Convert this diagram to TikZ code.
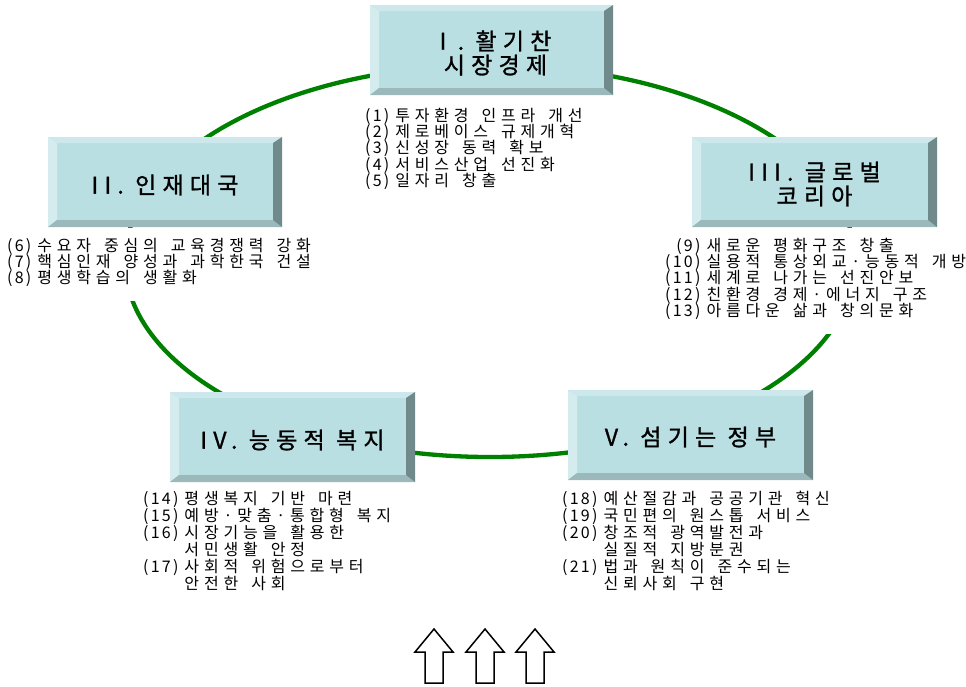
\documentclass[tikz,border=0pt]{standalone}
\usepackage{fontspec}
\usepackage{array}
\setmainfont{Noto Sans CJK KR}
\newfontfamily\titlefont[LetterSpace=27,FakeBold=1.2]{Noto Sans CJK KR}
\newfontfamily\listfont[LetterSpace=30]{Noto Sans CJK KR}
\newfontfamily\numfont[LetterSpace=14]{Noto Sans CJK KR}
\newcommand\listsetup{\listfont\fontsize{16}{16.4}\selectfont\spaceskip 13pt\relax}
\newcommand\listsetupwide{\listfont\fontsize{16}{17}\selectfont\spaceskip 13pt\relax}
\newcolumntype{N}{>{\numfont}r}
\newcommand\li[2]{\smash{#1}&\smash{#2}}
\definecolor{face}{RGB}{185,223,227}
\definecolor{bvleft}{RGB}{213,236,239}
\definecolor{bvtop}{RGB}{205,232,236}
\definecolor{bvright}{RGB}{112,138,140}
\definecolor{bvbottom}{RGB}{155,184,187}
\definecolor{ringgreen}{RGB}{0,128,0}
\tikzset{
  box/.style={fill=face, inner sep=0pt, outer sep=0pt, minimum height=90pt},
  title/.style={inner sep=0pt, align=center, font=\titlefont\fontsize{23}{24}\selectfont},
  listtext/.style={fill=white, inner xsep=0pt, inner ysep=12pt, anchor=base west, font=\listsetup},
  listwide/.style={listtext, inner ysep=8pt, font=\listsetupwide},
  ring/.style={draw=ringgreen, line width=4.3pt},
  blockarrow/.style={draw=black, fill=white, line width=1.5pt, line join=miter},
}
\newcommand\bevelize[1]{%
  \fill[bvleft] (#1.north west) -- ([shift={(9,6)}]#1.north west) -- ([shift={(9,-7)}]#1.south west) -- (#1.south west) -- cycle;
  \fill[bvtop] (#1.north west) -- (#1.north east) -- ([shift={(-9,6)}]#1.north east) -- ([shift={(9,6)}]#1.north west) -- cycle;
  \fill[bvbottom] (#1.south west) -- (#1.south east) -- ([shift={(-9,-7)}]#1.south east) -- ([shift={(9,-7)}]#1.south west) -- cycle;
  \fill[bvright] (#1.north east) -- (#1.south east) -- ([shift={(-9,-7)}]#1.south east) -- ([shift={(-9,6)}]#1.north east) -- cycle;
}
\newcommand\blockup[1]{%
  \draw[blockarrow] (#1) -- ++(19,23) -- ++(-10,0) -- ++(0,31) -- ++(-18,0) -- ++(0,-31) -- ++(-10,0) -- cycle;
}
\begin{document}
\begin{tikzpicture}[x=1pt,y=-1pt]
\useasboundingbox (0,0) rectangle (966,686);
% ring
\coordinate (ringc) at (490,261);
\draw[ring] (ringc) ellipse [x radius=365, y radius=196];
% lists (white backing hides the ring)
\node[listtext] (l1) at (365,121) {\begin{tabular}[t]{@{}N@{\hspace{6pt}}l@{}}
\li{(1)}{투자환경 인프라 개선}\\
\li{(2)}{제로베이스 규제개혁}\\
\li{(3)}{신성장 동력 확보}\\
\li{(4)}{서비스산업 선진화}\\
\li{(5)}{일자리 창출}
\end{tabular}};
\node[listtext] (l2) at (7,251) {\begin{tabular}[t]{@{}N@{\hspace{6pt}}l@{}}
\li{(6)}{수요자 중심의 교육경쟁력 강화}\\
\li{(7)}{핵심인재 양성과 과학한국 건설}\\
\li{(8)}{평생학습의 생활화}
\end{tabular}};
\node[listtext] (l3) at (665,251) {\begin{tabular}[t]{@{}N@{\hspace{6pt}}l@{}}
\li{(9)}{새로운 평화구조 창출}\\
\li{(10)}{실용적 통상외교·능동적 개방}\\
\li{(11)}{세계로 나가는 선진안보}\\
\li{(12)}{친환경 경제·에너지 구조}\\
\li{(13)}{아름다운 삶과 창의문화}
\end{tabular}};
\node[listwide] (l4) at (143,504) {\begin{tabular}[t]{@{}N@{\hspace{6pt}}l@{}}
\li{(14)}{평생복지 기반 마련}\\
\li{(15)}{예방·맞춤·통합형 복지}\\
\li{(16)}{시장기능을 활용한}\\
\li{}{서민생활 안정}\\
\li{(17)}{사회적 위험으로부터}\\
\li{}{안전한 사회}
\end{tabular}};
\node[listwide] (l5) at (562,504) {\begin{tabular}[t]{@{}N@{\hspace{6pt}}l@{}}
\li{(18)}{예산절감과 공공기관 혁신}\\
\li{(19)}{국민편의 원스톱 서비스}\\
\li{(20)}{창조적 광역발전과}\\
\li{}{실질적 지방분권}\\
\li{(21)}{법과 원칙이 준수되는}\\
\li{}{신뢰사회 구현}
\end{tabular}};
% boxes
\node[box, minimum width=243pt] (b1) at (491.5,50) {};
\node[box, minimum width=234pt] (b2) at (165,182) {};
\node[box, minimum width=245pt] (b3) at (814.5,182) {};
\node[box, minimum width=245pt] (b4) at (292.5,437) {};
\node[box, minimum width=245pt] (b5) at (690.5,435) {};
\bevelize{b1}
\bevelize{b2}
\bevelize{b3}
\bevelize{b4}
\bevelize{b5}
\node[title] (t1) at ([shift={(4,3)}]b1.center) {I . 활기찬\\시장경제};
\node[title] (t2) at ([shift={(0,3)}]b2.center) {II. 인재대국};
\node[title] (t3) at ([shift={(0,2)}]b3.center) {III. 글로벌\\코리아};
\node[title] (t4) at ([shift={(0,3)}]b4.center) {IV. 능동적 복지};
\node[title] (t5) at ([shift={(0,2)}]b5.center) {V. 섬기는 정부};
% arrows
\coordinate (a1) at (434,629);
\coordinate (a2) at (485,629);
\coordinate (a3) at (535,629);
\blockup{a1}
\blockup{a2}
\blockup{a3}
\end{tikzpicture}
\end{document}
